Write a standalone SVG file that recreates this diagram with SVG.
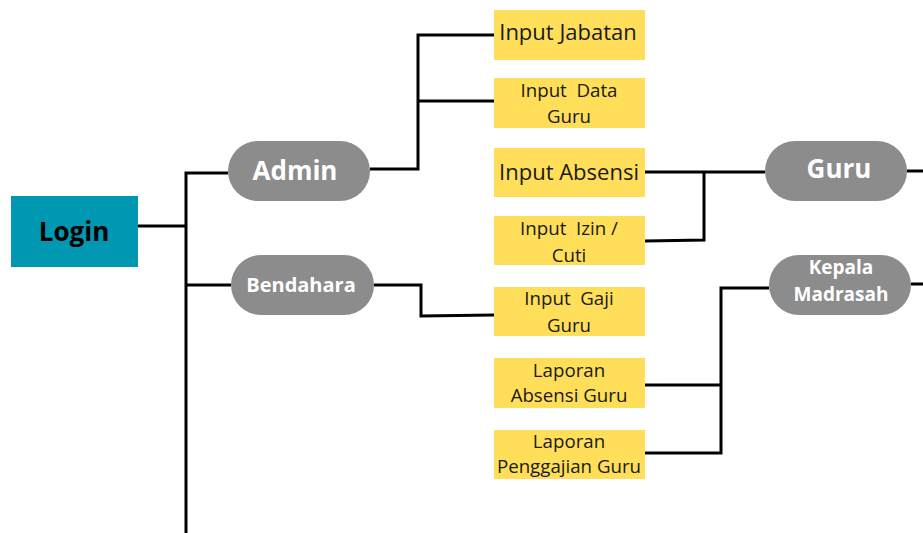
<svg xmlns="http://www.w3.org/2000/svg" width="923" height="533" viewBox="0 0 923 533">
  <style>
    .bg { fill: #ffffff; }
    .link { fill: none; stroke: #000000; stroke-width: 3; stroke-linejoin: miter; stroke-linecap: butt; }
    .login { fill: #0097b2; }
    .role { fill: #8c8c8c; }
    .menu { fill: #ffde59; }
    .t-login { font-family: "Open Sans", "DejaVu Sans", sans-serif; font-weight: 700; font-size: 26px; fill: #000000; text-anchor: middle; }
    .t-role { font-family: "Open Sans", "DejaVu Sans", sans-serif; font-weight: 700; fill: #ffffff; text-anchor: middle; }
    .t-menu { font-family: "Open Sans", "DejaVu Sans", sans-serif; font-weight: 400; fill: #1a1a1a; text-anchor: middle; }
    .t-small { font-size: 18.7px; }
  </style>

  <rect class="bg" x="0" y="0" width="923" height="533"/>

  <!-- connectors -->
  <g id="connectors">
    <!-- Login trunk -->
    <polyline class="link" points="138,226 186,226"/>
    <polyline class="link" points="186,533 186,173 228,173"/>
    <polyline class="link" points="186,285 231,285"/>
    <!-- Admin menus -->
    <polyline class="link" points="370,169 418,169 418,35 494,35"/>
    <polyline class="link" points="418,101 494,101"/>
    <!-- Bendahara menu -->
    <polyline class="link" points="374,285 421,285 421,316 494,315"/>
    <!-- Guru menus -->
    <polyline class="link" points="645,172 765,172"/>
    <polyline class="link" points="645,241 704,240 704,172"/>
    <polyline class="link" points="907,171 923,171"/>
    <!-- Kepala Madrasah reports -->
    <polyline class="link" points="769,288 721,288 721,453 645,453"/>
    <polyline class="link" points="645,385 721,385"/>
    <polyline class="link" points="911,284 923,284"/>
  </g>

  <!-- root -->
  <g id="login">
    <rect class="login" x="11" y="196" width="127" height="71"/>
    <text class="t-login" x="74" y="241">Login</text>
  </g>

  <!-- roles -->
  <g id="admin">
    <rect class="role" x="228" y="141" width="142" height="60" rx="30" ry="30"/>
    <text class="t-role" x="295" y="180" font-size="26">Admin</text>
  </g>
  <g id="bendahara">
    <rect class="role" x="231" y="255" width="143" height="60" rx="30" ry="30"/>
    <text class="t-role" x="301" y="292" font-size="20">Bendahara</text>
  </g>
  <g id="guru">
    <rect class="role" x="765" y="141" width="142" height="60" rx="30" ry="30"/>
    <text class="t-role" x="839" y="178" font-size="26">Guru</text>
  </g>
  <g id="kepala-madrasah">
    <rect class="role" x="769" y="255" width="142" height="60" rx="30" ry="30"/>
    <text class="t-role" x="841" y="274" font-size="19">Kepala</text>
    <text class="t-role" x="841" y="301" font-size="19">Madrasah</text>
  </g>

  <!-- menu items -->
  <g id="input-jabatan">
    <rect class="menu" x="494" y="10" width="151" height="50"/>
    <text class="t-menu" x="568" y="40" font-size="22">Input Jabatan</text>
  </g>
  <g id="input-data-guru">
    <rect class="menu" x="494" y="78" width="151" height="50"/>
    <text class="t-menu t-small" x="569" y="97">Input&#160; Data</text>
    <text class="t-menu t-small" x="569" y="123">Guru</text>
  </g>
  <g id="input-absensi">
    <rect class="menu" x="494" y="148" width="151" height="49"/>
    <text class="t-menu" x="569" y="180" font-size="22">Input Absensi</text>
  </g>
  <g id="input-izin-cuti">
    <rect class="menu" x="494" y="216" width="151" height="49"/>
    <text class="t-menu t-small" x="569" y="235">Input&#160; Izin /</text>
    <text class="t-menu t-small" x="569" y="262">Cuti</text>
  </g>
  <g id="input-gaji-guru">
    <rect class="menu" x="494" y="287" width="151" height="49"/>
    <text class="t-menu t-small" x="569" y="305">Input&#160; Gaji</text>
    <text class="t-menu t-small" x="569" y="332">Guru</text>
  </g>
  <g id="laporan-absensi-guru">
    <rect class="menu" x="494" y="358" width="151" height="50"/>
    <text class="t-menu t-small" x="569" y="377">Laporan</text>
    <text class="t-menu t-small" x="569" y="402">Absensi Guru</text>
  </g>
  <g id="laporan-penggajian-guru">
    <rect class="menu" x="494" y="430" width="151" height="49"/>
    <text class="t-menu t-small" x="569" y="448">Laporan</text>
    <text class="t-menu t-small" x="569" y="473">Penggajian Guru</text>
  </g>
</svg>
